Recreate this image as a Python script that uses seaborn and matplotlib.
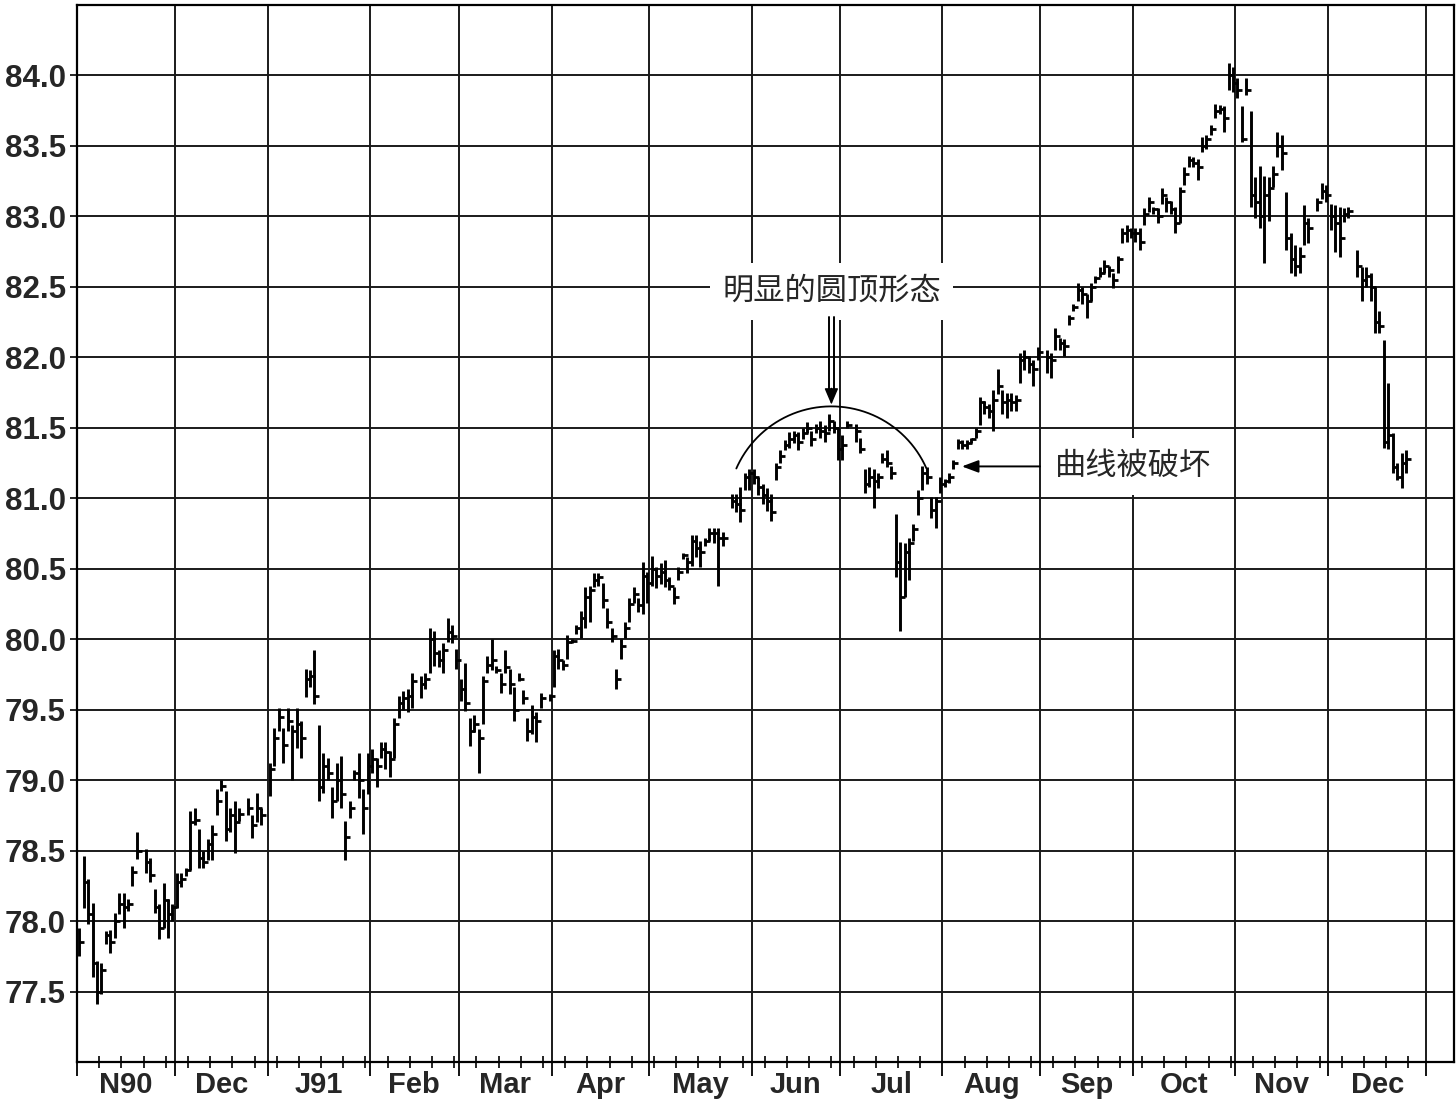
import numpy as np
import pandas as pd
import matplotlib
matplotlib.use("Agg")
import matplotlib.pyplot as plt
import matplotlib.transforms as mtransforms
import seaborn as sns

# weekday calendar of the chart, Nov 1990 .. Dec 1991 (None = no bar that day)
start_date = "1990-11-01"
end_date = "1991-12-31"
month_labels = ["N90", "Dec", "J91", "Feb", "Mar", "Apr", "May", "Jun",
                "Jul", "Aug", "Sep", "Oct", "Nov", "Dec"]

highs = [
    # Nov 90
    77.95, 78.46, 78.30, 78.13, 77.72, 77.70, 77.93, 77.94, 78.06, 78.20, 78.20,
    78.16, 78.39, 78.63, None, 78.51, 78.45, 78.23, 78.12, 78.27, 78.16, 78.12,
    # Dec 90
    78.34, 78.34, 78.38, 78.78, 78.80, 78.65, 78.50, 78.58, 78.68, 78.94, 79.00,
    78.92, 78.80, 78.85, 78.80, None, 78.87, 78.75, 78.91, 78.80, None,
    # Jan 91
    79.12, 79.37, 79.51, 79.37, 79.51, 79.39, 79.51, 79.42, 79.79, 79.78, 79.92, 79.39,
    79.19, 79.16, 78.95, 79.12, 79.17, 78.71, 78.85, 79.07, 79.19, 78.94, 79.19,
    # Feb 91
    79.22, 79.16, 79.27, 79.27, 79.21, 79.44, 79.60, 79.63, 79.65, 79.76,
    None, 79.74, 79.76, 80.08, 80.06, 79.92, 79.97, 80.15, 80.10, 79.93,
    # Mar 91
    79.72, 79.83, 79.44, 79.46, 79.36, 79.74, 79.88, 80.00, 79.81, 79.76, 79.92,
    79.79, 79.66, 79.76, 79.64, 79.44, 79.53, 79.48, 79.62, None, 79.61,
    # Apr 91
    79.92, 79.93, 79.85, 80.03, 80.00, 80.10, 80.20, 80.37, 80.38, 80.47, 80.47,
    80.40, 80.22, 80.08, 79.79, 80.00, 80.12, 80.29, 80.37, 80.29, 80.55, 80.48,
    # May 91
    80.59, 80.51, 80.54, 80.56, 80.44, 80.37, 80.51, 80.61, 80.58, 80.74, 80.74, 80.70,
    80.72, 80.79, 80.79, 80.79, 80.76, None, 81.03, 81.03, 81.08, 81.18, 81.21,
    # Jun 91
    81.21, 81.15, 81.10, 81.07, 81.03, 81.25, 81.34, 81.41, 81.47, 81.48,
    81.47, 81.50, 81.54, 81.48, 81.53, 81.55, 81.52, 81.60, 81.55, 81.50,
    # Jul 91
    81.45, 81.55, None, 81.53, 81.43, 81.21, 81.22, 81.21, 81.18, 81.32, 81.34, 81.23,
    80.89, 80.69, 80.68, 80.72, 80.82, 81.06, 81.23, 81.22, 81.01, 81.01, 81.15,
    # Aug 91
    81.14, 81.18, 81.27, 81.42, 81.41, 81.41, 81.43, 81.50, 81.72, 81.69, 81.67,
    81.77, 81.92, 81.77, 81.75, 81.75, 81.73, 82.03, 82.05, 82.01, 81.98, 82.07,
    # Sep 91
    None, 82.05, 82.03, 82.21, 82.14, 82.13, 82.30, 82.38, 82.53, 82.50, 82.45,
    82.53, 82.58, 82.64, 82.69, 82.65, 82.60, 82.72, 82.92, 82.94, 82.92,
    # Oct 91
    82.92, 82.92, 83.06, 83.14, 83.07, 83.06, 83.20, 83.14, 83.11, 83.07, 83.21, 83.35,
    83.43, 83.42, 83.41, 83.56, 83.58, 83.65, 83.80, 83.79, 83.78, 84.09, 84.06,
    # Nov 91
    83.98, 83.78, 83.98, 83.75, 83.28, 83.36, 83.29, 83.28, 83.36, 83.60, 83.58,
    83.17, 82.88, 82.80, 82.78, 83.08, 82.99, None, 83.13, 83.24, 83.22,
    # Dec 91
    83.09, 83.08, 83.07, 83.06, 83.07, None, 82.76, 82.64, 82.64, 82.60, 82.50,
    82.33, 82.12, 81.82, 81.46, 81.25, 81.32, 81.34, None, None, None, None,
]

lows = [
    # Nov 90
    77.75, 78.09, 77.98, 77.60, 77.41, 77.48, 77.84, 77.77, 77.88, 78.05, 77.95,
    78.07, 78.25, 78.44, None, 78.34, 78.28, 78.06, 77.87, 77.95, 77.88, 78.00,
    # Dec 90
    78.09, 78.24, 78.32, 78.36, 78.68, 78.38, 78.38, 78.43, 78.43, 78.75, 78.92,
    78.57, 78.63, 78.48, 78.71, None, 78.75, 78.59, 78.70, 78.68, None,
    # Jan 91
    78.89, 79.10, 79.35, 79.12, 79.35, 79.00, 79.23, 79.16, 79.59, 79.66, 79.54, 78.85,
    78.91, 79.00, 78.73, 78.85, 78.80, 78.43, 78.73, 79.00, 78.87, 78.62, 78.90,
    # Feb 91
    79.05, 78.95, 79.16, 79.08, 79.02, 79.16, 79.44, 79.50, 79.48, 79.51,
    None, 79.58, 79.65, 79.76, 79.81, 79.80, 79.76, 79.98, 79.97, 79.79,
    # Mar 91
    79.56, 79.49, 79.24, 79.34, 79.05, 79.40, 79.76, 79.78, 79.76, 79.62, 79.76,
    79.61, 79.42, 79.70, 79.54, 79.28, 79.33, 79.27, 79.51, None, 79.56,
    # Apr 91
    79.66, 79.79, 79.78, 79.86, 79.97, 80.04, 80.01, 80.08, 80.12, 80.37, 80.38,
    80.22, 80.08, 79.98, 79.65, 79.86, 80.01, 80.12, 80.26, 80.19, 80.18, 80.26,
    # May 91
    80.38, 80.36, 80.39, 80.37, 80.35, 80.25, 80.42, 80.57, 80.47, 80.52, 80.58, 80.51,
    80.66, 80.70, 80.68, 80.38, 80.66, None, 80.93, 80.90, 80.83, 81.06, 81.06,
    # Jun 91
    81.10, 81.02, 80.96, 80.91, 80.84, 81.13, 81.25, 81.34, 81.36, 81.39,
    81.34, 81.42, 81.46, 81.37, 81.46, 81.43, 81.40, 81.48, 81.46, 81.27,
    # Jul 91
    81.27, 81.50, None, 81.40, 81.32, 81.04, 81.08, 80.93, 81.07, 81.25, 81.22, 81.14,
    80.44, 80.06, 80.30, 80.42, 80.70, 80.88, 81.06, 81.10, 80.86, 80.79, 81.04,
    # Aug 91
    81.08, 81.11, 81.21, 81.35, 81.35, 81.35, 81.39, 81.43, 81.52, 81.60, 81.57,
    81.48, 81.74, 81.60, 81.57, 81.62, 81.62, 81.82, 81.91, 81.89, 81.80, 81.98,
    # Sep 91
    None, 81.89, 81.85, 82.05, 82.05, 82.01, 82.23, 82.33, 82.40, 82.38, 82.28,
    82.40, 82.53, 82.57, 82.60, 82.57, 82.49, 82.60, 82.81, 82.82, 82.85,
    # Oct 91
    82.82, 82.76, 82.94, 83.03, 83.02, 82.95, 83.09, 83.03, 83.02, 82.88, 82.95, 83.22,
    83.35, 83.35, 83.26, 83.46, 83.48, 83.58, 83.70, 83.73, 83.60, 83.90, 83.88,
    # Nov 91
    83.84, 83.53, 83.86, 83.07, 82.99, 82.92, 82.67, 82.97, 83.21, 83.42, 83.33,
    82.76, 82.60, 82.58, 82.60, 82.80, 82.81, None, 83.04, 83.12, 83.10,
    # Dec 91
    82.90, 82.75, 82.71, 82.96, 82.99, None, 82.57, 82.40, 82.50, 82.40, 82.17,
    82.17, 81.36, 81.35, 81.18, 81.13, 81.07, 81.18, None, None, None, None,
]

closes = [
    # Nov 90
    77.85, 78.28, 78.05, 77.70, 77.50, 77.65, 77.90, 77.85, 78.00, 78.12, 78.10,
    78.12, 78.35, 78.50, None, 78.42, 78.33, 78.10, 77.95, 78.15, 78.05, 78.10,
    # Dec 90
    78.28, 78.30, 78.36, 78.70, 78.72, 78.45, 78.42, 78.55, 78.62, 78.85, 78.96,
    78.65, 78.75, 78.70, 78.76, None, 78.80, 78.68, 78.80, 78.75, None,
    # Jan 91
    79.08, 79.30, 79.45, 79.25, 79.42, 79.35, 79.40, 79.30, 79.72, 79.74, 79.60, 78.95,
    79.10, 79.05, 78.85, 79.00, 78.90, 78.60, 78.80, 79.05, 79.00, 78.80, 79.10,
    # Feb 91
    79.15, 79.10, 79.22, 79.20, 79.15, 79.40, 79.55, 79.58, 79.60, 79.70,
    None, 79.68, 79.72, 80.00, 79.90, 79.85, 79.92, 80.05, 80.02, 79.85,
    # Mar 91
    79.65, 79.55, 79.35, 79.40, 79.30, 79.70, 79.82, 79.85, 79.78, 79.68, 79.80,
    79.68, 79.50, 79.72, 79.58, 79.35, 79.45, 79.42, 79.58, None, 79.60,
    # Apr 91
    79.88, 79.85, 79.82, 79.98, 79.99, 80.08, 80.15, 80.30, 80.35, 80.42, 80.44,
    80.28, 80.12, 80.02, 79.72, 79.95, 80.08, 80.25, 80.32, 80.24, 80.45, 80.40,
    # May 91
    80.50, 80.45, 80.48, 80.42, 80.38, 80.30, 80.48, 80.60, 80.55, 80.70, 80.65, 80.62,
    80.70, 80.75, 80.75, 80.72, 80.72, None, 80.98, 80.96, 80.92, 81.15, 81.18,
    # Jun 91
    81.15, 81.08, 81.02, 80.98, 80.90, 81.22, 81.30, 81.38, 81.42, 81.45,
    81.40, 81.46, 81.50, 81.42, 81.50, 81.48, 81.46, 81.55, 81.50, 81.35,
    # Jul 91
    81.38, 81.52, None, 81.48, 81.35, 81.10, 81.15, 81.12, 81.15, 81.28, 81.25, 81.18,
    80.55, 80.30, 80.62, 80.68, 80.78, 81.00, 81.18, 81.15, 80.92, 80.98, 81.10,
    # Aug 91
    81.12, 81.15, 81.25, 81.40, 81.38, 81.39, 81.42, 81.48, 81.68, 81.65, 81.62,
    81.70, 81.80, 81.68, 81.70, 81.68, 81.70, 81.98, 82.00, 81.95, 81.92, 82.04,
    # Sep 91
    None, 82.00, 81.98, 82.15, 82.10, 82.08, 82.28, 82.36, 82.48, 82.45, 82.40,
    82.50, 82.56, 82.60, 82.65, 82.62, 82.55, 82.70, 82.88, 82.90, 82.88,
    # Oct 91
    82.88, 82.82, 83.02, 83.10, 83.05, 83.00, 83.15, 83.10, 83.05, 82.95, 83.18, 83.30,
    83.40, 83.38, 83.35, 83.50, 83.55, 83.62, 83.75, 83.76, 83.70, 84.00, 83.95,
    # Nov 91
    83.90, 83.55, 83.90, 83.15, 83.10, 83.00, 83.15, 83.20, 83.30, 83.50, 83.45,
    82.85, 82.70, 82.65, 82.72, 82.95, 82.92, None, 83.10, 83.18, 83.15,
    # Dec 91
    83.00, 82.95, 82.85, 83.02, 83.04, None, 82.65, 82.55, 82.58, 82.50, 82.25,
    82.22, 81.40, 81.45, 81.22, 81.15, 81.25, 81.28, None, None, None, None,
]

y_ticks = [77.5, 78.0, 78.5, 79.0, 79.5, 80.0, 80.5, 81.0, 81.5, 82.0, 82.5, 83.0, 83.5, 84.0]

days = pd.bdate_range(start_date, end_date)
df = pd.DataFrame({"date": days, "high": highs, "low": lows, "close": closes})
df[["high", "low", "close"]] = df[["high", "low", "close"]].astype(float)
df["slot"] = np.arange(len(df))
bars = df.dropna()

# month boundaries and weekly (Thursday) ticks come from the calendar
month_key = df["date"].dt.to_period("M")
starts = np.flatnonzero(month_key.ne(month_key.shift()).to_numpy())
bounds = np.append(starts, len(df)) - 0.5
centers = (bounds[:-1] + bounds[1:]) / 2
weekly = df["slot"][df["date"].dt.dayofweek == 3].to_numpy() - 0.5

sns.set_theme(style="white", rc={"axes.edgecolor": "black", "axes.linewidth": 1.6})
plt.rcParams["font.family"] = ["Liberation Sans", "DejaVu Sans"]
cjk = ["Noto Sans CJK SC", "DejaVu Sans"]

fig = plt.figure(figsize=(14.56, 11.02), dpi=100)
ax = fig.add_axes([77 / 1456, 1 - 1062 / 1102, 1377 / 1456, 1057 / 1102])

# high-low bars with close ticks
ax.vlines(bars["slot"], bars["low"], bars["high"], color="black", lw=2.1, zorder=3)
sns.scatterplot(data=bars, x="slot", y="close", marker=1, s=14, color="black",
                linewidth=2.0, ax=ax, legend=False, zorder=3)

ax.set_xlim(-0.5, 309.8)
ax.set_ylim(77.0, 84.5)
ax.set_xlabel("")
ax.set_ylabel("")

ax.set_xticks(bounds)
ax.set_xticks(weekly, minor=True)
ax.set_xticklabels([])
ax.set_yticks(y_ticks)
ax.set_yticklabels([f"{v:.1f}" for v in y_ticks], fontsize=22.5, fontweight="bold")
ax.tick_params(axis="x", which="major", direction="out", length=10, width=1.3,
               color="black", bottom=True)
ax.tick_params(axis="x", which="minor", direction="inout", length=9, width=1.2,
               color="black", bottom=True)
ax.tick_params(axis="y", which="major", direction="out", length=5, width=1.2,
               pad=3, color="black", left=True)
ax.set_axisbelow(True)
ax.grid(True, which="major", axis="both", color="#1a1a1a", lw=1.4)
ax.grid(False, which="minor")

trans = mtransforms.blended_transform_factory(ax.transData, ax.transAxes)
for c, lab in zip(centers, month_labels):
    ax.text(c, -0.0215, lab, transform=trans, ha="center", va="center",
            fontsize=21, fontweight="bold")

# rounding top: arc over the June highs (a circle on screen)
may_jul = df.iloc[starts[6]:starts[9]]
cx = may_jul["high"].idxmax() + 0.5
cy, rx, ry = 80.915, 23.4, 0.737
t = np.radians(np.linspace(23.7, 156.3, 200))
ax.plot(cx + rx * np.cos(t), cy + ry * np.sin(t), color="black", lw=1.3, zorder=4)

box = dict(facecolor="white", edgecolor="none", boxstyle="square,pad=0.4")
ax.text(cx, 82.47, "明显的圆顶形态", ha="center", va="center", fontsize=22.5,
        family=cjk, fontweight="medium", bbox=box, zorder=5)

# hollow down arrow
for dx in (-0.65, 0.65):
    ax.plot([cx + dx, cx + dx], [82.285, 81.74], color="black", lw=1.4, zorder=6)
ax.annotate("", xy=(cx, 81.665), xytext=(cx, 81.78),
            arrowprops=dict(arrowstyle="-|>,head_length=0.4,head_width=0.17",
                            color="black", lw=1, mutation_scale=25,
                            shrinkA=0, shrinkB=0), zorder=6)

# curve broken
aug = starts[9]
ax.text(aug + 24.9, 81.226, "曲线被破坏", ha="left", va="center", fontsize=22.5,
        family=cjk, fontweight="medium", bbox=box, zorder=5)
ax.annotate("", xy=(aug + 3.9, 81.226), xytext=(aug + 21.5, 81.226),
            arrowprops=dict(arrowstyle="-|>,head_length=0.4,head_width=0.15",
                            color="black", lw=1.4, mutation_scale=25,
                            shrinkA=0, shrinkB=0), zorder=6)

for s in ax.spines.values():
    s.set_color("black")
    s.set_linewidth(1.6)

fig.savefig("out.png", dpi=100)
